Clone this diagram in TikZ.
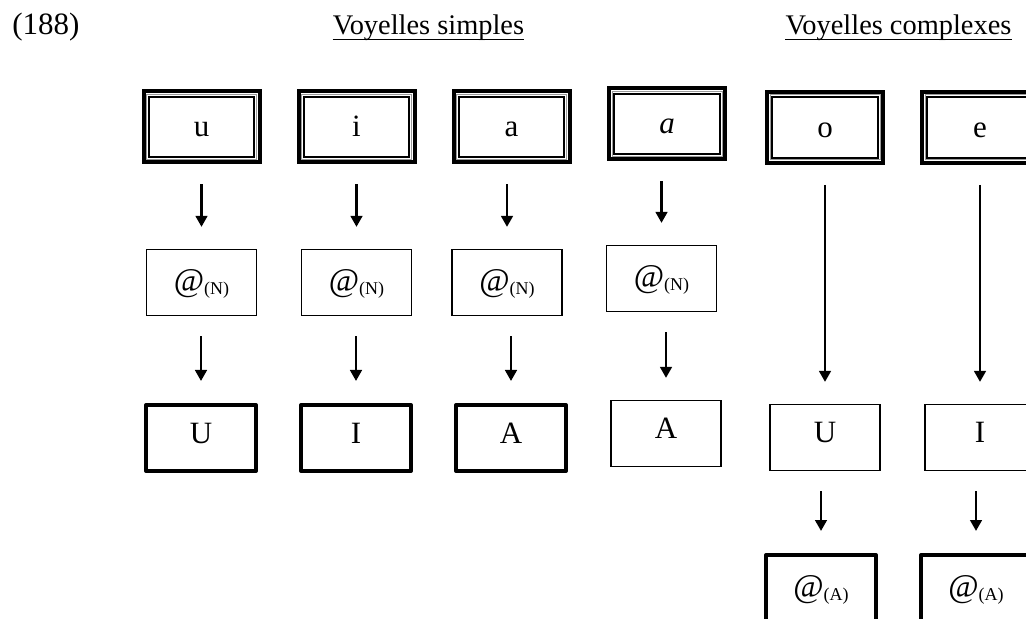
\documentclass[tikz,border=0pt]{standalone}
\usepackage{fontspec}
\setmainfont{Liberation Serif}
\usetikzlibrary{arrows.meta}
\definecolor{cadreGris}{HTML}{9A9A9A}
\newcommand{\arob}[1]{{\fontsize{16.5}{18}\selectfont @}\raisebox{-1.6pt}{\fontsize{9}{10}\selectfont(#1)}}

\begin{document}
\begin{tikzpicture}[x=0.5pt,y=-0.5pt,
  titre/.style={inner sep=0pt,font=\fontsize{14.2}{17}\selectfont},
  boite/.style={draw,line width=0.6pt,minimum width=55pt,minimum height=33pt,inner sep=0pt,
    font=\fontsize{15.5}{18}\selectfont,text height=11pt,text depth=5.7pt},
  arobase/.style={text depth=2pt},
  triple/.style={boite,text depth=1pt,line width=2pt,minimum width=58pt,minimum height=35.5pt,
    path picture={
      \draw[cadreGris,line width=0.5pt] ([shift={(1.5pt,1.5pt)}]path picture bounding box.south west) rectangle ([shift={(-1.5pt,-1.5pt)}]path picture bounding box.north east);
      \draw[line width=1.1pt] ([shift={(2.6pt,2.6pt)}]path picture bounding box.south west) rectangle ([shift={(-2.6pt,-2.6pt)}]path picture bounding box.north east);}},
  epaisse/.style={boite,line width=2pt,line join=round},
  fl/.style={-{Triangle[width=5.8pt,length=5.5pt]},line width=1.3pt,shorten <=10pt,shorten >=11pt}]
\useasboundingbox (0,0) rectangle (1026,619);
% Titres
\node[titre,anchor=base west,font=\fontsize{15.5}{18}\selectfont] (num) at (12,35) {(188)};
\node[titre,anchor=base] (vs) at (428.5,35) {Voyelles simples};
\node[titre,anchor=base] (vc) at (898.5,35) {Voyelles complexes};
\draw[line width=0.5pt] ([yshift=-2.2pt]vs.base west) -- ([yshift=-2.2pt]vs.base east);
\draw[line width=0.5pt] ([yshift=-2.2pt]vc.base west) -- ([yshift=-2.2pt]vc.base east);
% Voyelles
\node[triple] (u) at (201.5,127) {u};
\node[triple] (i) at (356.5,127) {i};
\node[triple] (a) at (511.5,127) {a};
\node[triple] (ait) at (667,124) {\textit{a}};
\node[triple] (o) at (825,127.5) {o};
\node[triple] (e) at (980,127.5) {e};
% Niveau @(N)
\node[boite,arobase] (uN) at (201.5,282.5) {\arob{N}};
\node[boite,arobase] (iN) at (356.5,282.5) {\arob{N}};
\node[boite,arobase] (aN) at (507,282.5) {\arob{N}};
\node[boite,arobase] (aitN) at (661.5,278.5) {\arob{N}};
% Elements
\node[epaisse] (uU) at (201,438) {U};
\node[epaisse] (iI) at (356,438) {I};
\node[epaisse] (aA) at (511,438) {A};
\node[boite] (aitA) at (666,433.5) {A};
\node[boite] (oU) at (825,437.5) {U};
\node[boite] (eI) at (980,437.5) {I};
\node[epaisse,arobase] (oA) at (821,588) {\arob{A}};
\node[epaisse,arobase] (eA) at (976,588) {\arob{A}};
% Fleches
\draw[fl] (uN.north |- u.south) -- (uN.north);
\draw[fl] (iN.north |- i.south) -- (iN.north);
\draw[fl] (aN.north |- a.south) -- (aN.north);
\draw[fl] (aitN.north |- ait.south) -- (aitN.north);
\draw[fl] (uU.north |- uN.south) -- (uU.north);
\draw[fl] (iI.north |- iN.south) -- (iI.north);
\draw[fl] (aA.north |- aN.south) -- (aA.north);
\draw[fl] (aitA.north |- aitN.south) -- (aitA.north);
\draw[fl] (oU.north |- o.south) -- (oU.north);
\draw[fl] (eI.north |- e.south) -- (eI.north);
\draw[fl] (oA.north |- oU.south) -- (oA.north);
\draw[fl] (eA.north |- eI.south) -- (eA.north);
\end{tikzpicture}
\end{document}
